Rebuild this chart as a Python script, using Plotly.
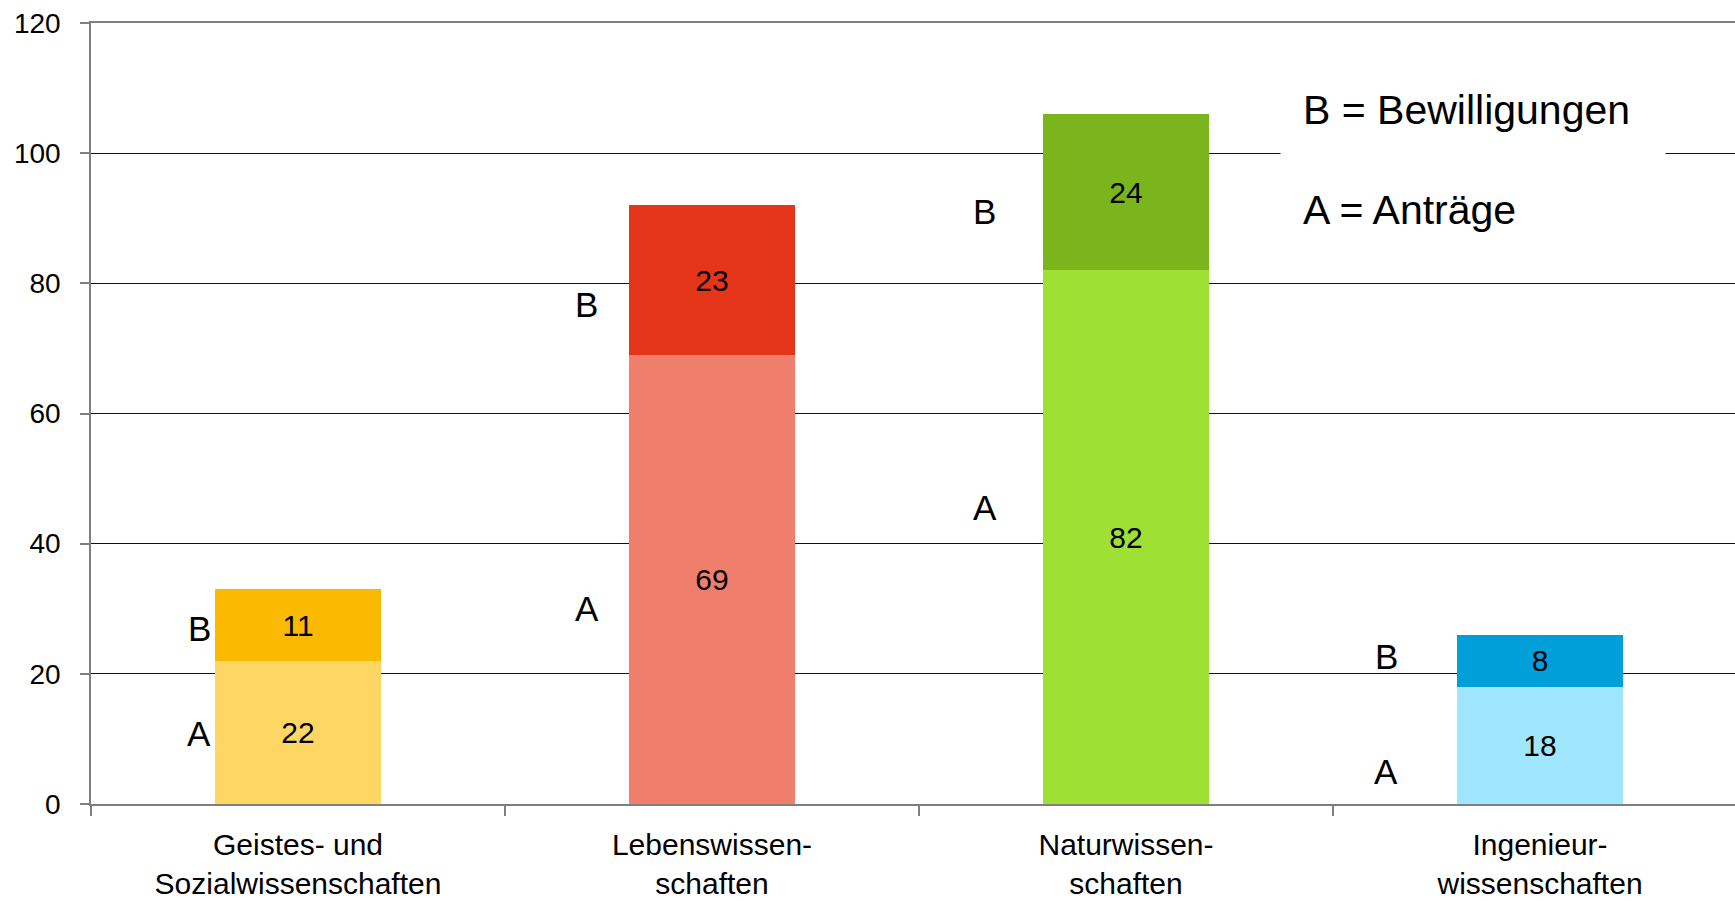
import plotly.graph_objects as go

# ---- data ----
categories = ["Geistes- und<br>Sozialwissenschaften", "Lebenswissen-<br>schaften",
              "Naturwissen-<br>schaften", "Ingenieur-<br>wissenschaften"]
antraege = [22, 69, 82, 18]          # A = Anträge
bewilligungen = [11, 23, 24, 8]      # B = Bewilligungen
y_ticks = [0, 20, 40, 60, 80, 100, 120]

# ---- styling / layout (not data) ----
colors_a = ["#FDD663", "#F07E6C", "#9FE034", "#A0E6FF"]
colors_b = ["#FBBA00", "#E43518", "#7AB51D", "#009FDA"]
letter_x_offset = [-0.239, -0.303, -0.341, -0.371]
letter_a_y = [10.8, 30.0, 45.5, 5.0]
letter_b_y = [27.0, 76.7, 91.0, 22.6]

FONT = "Liberation Sans, Arial, sans-serif"

fig = go.Figure()
fig.add_trace(go.Bar(
    x=categories, y=antraege, name="A", marker=dict(color=colors_a, line=dict(width=0)),
    width=0.4, text=[str(v) for v in antraege], textposition="inside",
    insidetextanchor="middle", textangle=0, constraintext="none",
    textfont=dict(family=FONT, size=30, color="black"), hoverinfo="skip"))
fig.add_trace(go.Bar(
    x=categories, y=bewilligungen, name="B", marker=dict(color=colors_b, line=dict(width=0)),
    width=0.4, text=[str(v) for v in bewilligungen], textposition="inside",
    insidetextanchor="middle", textangle=0, constraintext="none",
    textfont=dict(family=FONT, size=30, color="black"), hoverinfo="skip"))

annotations = []
for i in range(len(categories)):
    annotations.append(dict(x=i + letter_x_offset[i], y=letter_a_y[i], xref="x", yref="y",
                            text="A", showarrow=False, xanchor="center", yanchor="middle",
                            font=dict(family=FONT, size=35, color="black")))
    annotations.append(dict(x=i + letter_x_offset[i], y=letter_b_y[i], xref="x", yref="y",
                            text="B", showarrow=False, xanchor="center", yanchor="middle",
                            font=dict(family=FONT, size=35, color="black")))

# key text (B on a white box that interrupts the 100 gridline, A below it)
annotations.append(dict(x=2.372, y=106.6, xref="x", yref="y",
                        text="B = Bewilligungen", showarrow=False,
                        xanchor="left", yanchor="middle", align="left",
                        width=340, borderpad=22, bgcolor="white",
                        font=dict(family=FONT, size=41, color="black")))
annotations.append(dict(x=2.372, y=91.2, xref="x", yref="y",
                        text="A = Anträge", showarrow=False,
                        xanchor="left", yanchor="middle", align="left",
                        width=340, borderpad=22,
                        font=dict(family=FONT, size=41, color="black")))

fig.update_layout(
    width=1735, height=901,
    margin=dict(l=91, r=0, t=23, b=97),
    paper_bgcolor="white", plot_bgcolor="white",
    barmode="stack", bargap=0.6, showlegend=False,
    font=dict(family=FONT, color="black"),
    annotations=annotations,
    xaxis=dict(
        range=[-0.5, 3.471], tickson="boundaries", ticks="outside", ticklen=10,
        tickcolor="#808080", tickwidth=1.5, showline=True, linecolor="#7f7f7f", linewidth=2,
        mirror=True, showgrid=False, tickfont=dict(family=FONT, size=30, color="black"),
        ticklabelstandoff=13, automargin=False, fixedrange=True),
    yaxis=dict(
        range=[0, 120], tickvals=y_ticks, ticks="outside", ticklen=9, tickcolor="#808080",
        tickwidth=1.5, showline=True, linecolor="#808080", linewidth=1.5,
        showgrid=True, gridcolor="#111111", gridwidth=1, zeroline=False,
        tickfont=dict(family=FONT, size=28, color="black"), ticklabelstandoff=14,
        automargin=False, fixedrange=True),
)

fig.write_html("out.html", config={"displayModeBar": False},
               post_script="document.body.style.margin='0';document.body.style.overflow='hidden';")
